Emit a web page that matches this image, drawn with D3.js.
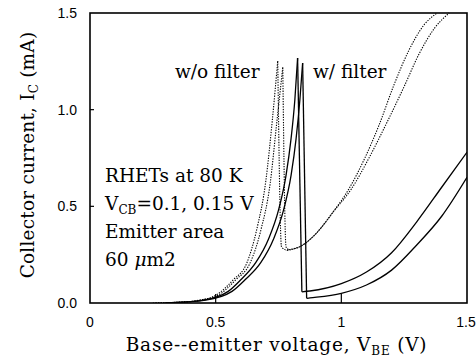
<!DOCTYPE html>
<html>
<head>
<meta charset="utf-8">
<script src="https://cdn.jsdelivr.net/npm/d3@7"></script>
<style>
  html, body { margin: 0; padding: 0; background: #fff; }
  svg { display: block; }
  text { font-family: "DejaVu Serif", serif; fill: #000; }
  text.tick { font-family: "Liberation Sans", Arial, sans-serif; }
</style>
</head>
<body>
<svg id="chart" width="476" height="357"></svg>
<script>
// Axis ticks
const voltageTicks = [0, 0.5, 1, 1.5];
const voltageTickLabels = ["0", "0.5", "1", "1.5"];
const currentTicks = [0, 0.5, 1.0, 1.5];
const currentTickLabels = ["0.0", "0.5", "1.0", "1.5"];

// I-V curves, [V_BE (V), I_C (mA)]: without filter (dotted)
const woFilterA = [[0.25,0],[0.40,0.008],[0.44,0.016],[0.50,0.04],[0.57,0.12],[0.624,0.207],[0.663,0.378],[0.70,0.636],[0.725,0.94],[0.747,1.252],[0.762,0.29],[0.784,0.272],[0.84,0.295],[0.90,0.36],[0.967,0.47],[1.03,0.59],[1.09,0.74],[1.15,0.92],[1.21,1.13],[1.27,1.31],[1.33,1.44],[1.381,1.5]];
const woFilterB = [[0.26,0],[0.41,0.008],[0.45,0.016],[0.51,0.04],[0.58,0.12],[0.637,0.207],[0.680,0.378],[0.717,0.62],[0.742,0.92],[0.767,1.22],[0.780,0.29],[0.79,0.276],[0.84,0.295],[0.90,0.36],[0.967,0.47],[1.04,0.59],[1.11,0.75],[1.18,0.93],[1.25,1.12],[1.31,1.29],[1.37,1.42],[1.429,1.5]];

// I-V curves with filter (solid)
const wFilterA = [[0.30,0],[0.45,0.015],[0.55,0.06],[0.60,0.12],[0.66,0.21],[0.71,0.33],[0.75,0.48],[0.78,0.66],[0.80,0.85],[0.815,1.05],[0.826,1.267],[0.843,0.058],[0.875,0.062],[1.0,0.10],[1.1,0.16],[1.2,0.26],[1.3,0.42],[1.4,0.60],[1.5,0.78]];
const wFilterB = [[0.30,0],[0.46,0.015],[0.565,0.06],[0.617,0.12],[0.68,0.21],[0.73,0.33],[0.77,0.48],[0.80,0.66],[0.82,0.85],[0.835,1.05],[0.846,1.241],[0.862,0.024],[0.875,0.026],[1.0,0.05],[1.1,0.093],[1.2,0.17],[1.3,0.30],[1.4,0.45],[1.5,0.65]];

const svg = d3.select("#chart");
const plotLeft = 90, plotRight = 467, plotTop = 13, plotBottom = 303;

const x = d3.scaleLinear().domain([0, 1.5]).range([plotLeft, plotRight]);
const y = d3.scaleLinear().domain([0, 1.5]).range([plotBottom, plotTop]);

// Split a curve into runs that are monotonic in current so peaks and valleys stay sharp
function monotonicRuns(pts) {
  const runs = [];
  let run = [pts[0]];
  let dir = 0;
  for (let k = 1; k < pts.length; k++) {
    const d = Math.sign(pts[k][1] - pts[k - 1][1]);
    if (dir !== 0 && d !== 0 && d !== dir) {
      runs.push(run);
      run = [pts[k - 1]];
    }
    if (d !== 0) dir = d;
    run.push(pts[k]);
  }
  runs.push(run);
  return runs;
}

const line = d3.line()
  .x(d => x(d[0]))
  .y(d => y(d[1]))
  .curve(d3.curveMonotoneX);

const plot = svg.append("g");
plot.append("clipPath").attr("id", "clip")
  .append("rect").attr("x", plotLeft).attr("y", plotTop - 1)
  .attr("width", plotRight - plotLeft).attr("height", plotBottom - plotTop + 1);

const curves = plot.append("g").attr("clip-path", "url(#clip)");

function drawCurve(pts, dotted) {
  monotonicRuns(pts).forEach(run => {
    curves.append("path")
      .attr("d", line(run))
      .attr("fill", "none")
      .attr("stroke", "#000")
      .attr("stroke-width", dotted ? 1.1 : 1.3)
      .attr("stroke-dasharray", dotted ? "1.3,1.3" : null)
      .attr("stroke-linejoin", "round");
  });
}

drawCurve(woFilterA, true);
drawCurve(woFilterB, true);
drawCurve(wFilterA, false);
drawCurve(wFilterB, false);

// Frame
svg.append("rect")
  .attr("x", plotLeft).attr("y", plotTop)
  .attr("width", plotRight - plotLeft).attr("height", plotBottom - plotTop)
  .attr("fill", "none").attr("stroke", "#000").attr("stroke-width", 1.6);

// Inward ticks
svg.append("g").selectAll("line")
  .data(currentTicks.filter(v => v > 0 && v < 1.5))
  .join("line")
  .attr("x1", plotLeft).attr("x2", plotLeft + 4)
  .attr("y1", d => y(d)).attr("y2", d => y(d))
  .attr("stroke", "#000").attr("stroke-width", 1.2);

svg.append("g").selectAll("line")
  .data(voltageTicks.filter(v => v > 0 && v < 1.5))
  .join("line")
  .attr("x1", d => x(d)).attr("x2", d => x(d))
  .attr("y1", plotBottom).attr("y2", plotBottom - 9)
  .attr("stroke", "#000").attr("stroke-width", 1.2);

// Tick labels
svg.append("g").selectAll("text")
  .data(currentTicks)
  .join("text")
  .attr("class", "tick")
  .attr("x", plotLeft - 13)
  .attr("y", d => y(d) + 5)
  .attr("text-anchor", "end")
  .attr("font-size", 14)
  .text((d, k) => currentTickLabels[k]);

svg.append("g").selectAll("text")
  .data(voltageTicks)
  .join("text")
  .attr("class", "tick")
  .attr("x", (d, k) => x(d) + (k === voltageTicks.length - 1 ? -1 : 0))
  .attr("y", 327)
  .attr("text-anchor", "middle")
  .attr("font-size", 14)
  .text((d, k) => voltageTickLabels[k]);

// Axis titles
const xTitle = svg.append("text")
  .attr("x", 276.5)
  .attr("y", 351)
  .attr("text-anchor", "middle")
  .attr("font-size", 18.5)
  .attr("letter-spacing", 0.8);
xTitle.append("tspan").text("Base--emitter voltage, V");
xTitle.append("tspan").attr("font-size", 12).attr("dy", 3.5).text("BE");
xTitle.append("tspan").attr("dy", -3.5).text(" (V)");

const yTitle = svg.append("text")
  .attr("transform", "translate(34,155) rotate(-90)")
  .attr("text-anchor", "middle")
  .attr("font-size", 18.5)
  .attr("letter-spacing", 0.2);
yTitle.append("tspan").text("Collector current, I");
yTitle.append("tspan").attr("font-size", 12).attr("dy", 3.5).text("C");
yTitle.append("tspan").attr("dy", -3.5).text(" (mA)");

// Annotations
svg.append("text").attr("x", 175).attr("y", 78).attr("font-size", 18.5).text("w/o filter");
svg.append("text").attr("x", 313).attr("y", 78).attr("font-size", 18.5).text("w/ filter");

const notes = svg.append("g").attr("font-size", 18.5);
notes.append("text").attr("x", 105).attr("y", 182).text("RHETs at 80 K");
const vcb = notes.append("text").attr("x", 105).attr("y", 210);
vcb.append("tspan").text("V");
vcb.append("tspan").attr("font-size", 12).attr("dy", 3.5).text("CB");
vcb.append("tspan").attr("dy", -3.5).text("=0.1, 0.15 V");
notes.append("text").attr("x", 105).attr("y", 238).text("Emitter area");
const area = notes.append("text").attr("x", 105).attr("y", 266);
area.append("tspan").text("60 ");
area.append("tspan").attr("font-style", "italic").text("\u03bc");
area.append("tspan").text("m2");
</script>
</body>
</html>
